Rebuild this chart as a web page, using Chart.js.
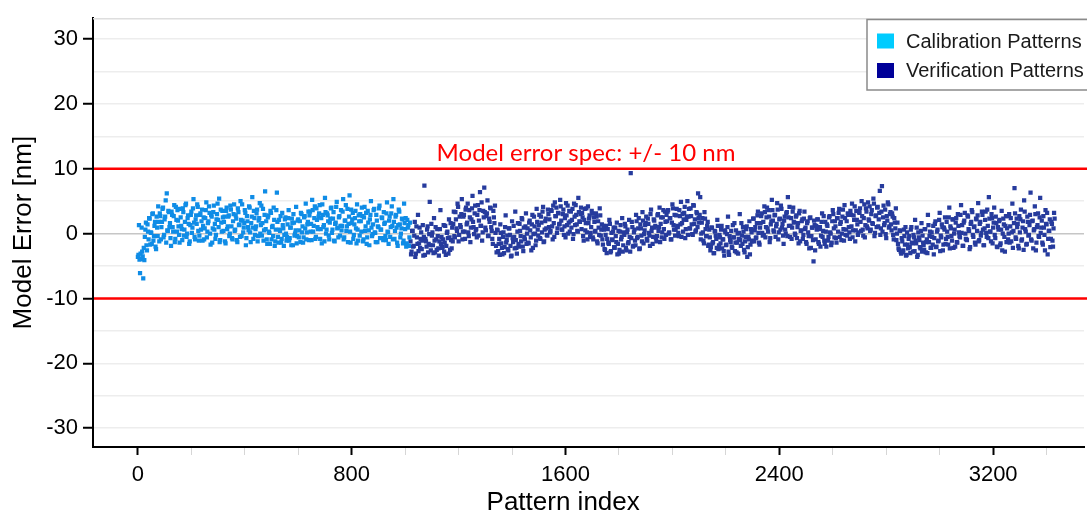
<!DOCTYPE html>
<html><head><meta charset="utf-8">
<script src="https://cdn.jsdelivr.net/npm/chart.js@4.4.1/dist/chart.umd.min.js"></script>
<style>html,body{margin:0;padding:0;background:#fff;overflow:hidden}canvas{display:block}</style>
</head><body>
<canvas id="c" width="1087" height="515"></canvas>
<script>
const seriesLabels = ['Calibration Patterns', 'Verification Patterns'];
const patternStep = 4;
const calibrationStartIndex = 0;
const verificationStartIndex = 1020;
const interleaveOffset = 2;
// samples at index start + 4i
const calibrationErrors = [
-3.6,1.3,-6.1,-3.9,-2.8,-6.9,-4.1,0.6,-1.8,1.4,
-0.9,2.3,0.2,-1.6,3.1,-0.4,1.8,-2.4,0.9,4.2,
-1.2,2.7,1.0,3.8,-0.6,2.2,5.1,6.2,0.4,3.3,
1.6,-1.9,2.9,0.3,4.4,-0.8,2.1,3.6,1.1,-1.4,
2.5,0.7,3.9,-0.3,1.8,4.6,0.0,2.8,-1.6,1.3,
3.4,0.9,5.3,-0.5,2.2,1.5,4.1,-1.1,2.9,0.6,
3.7,1.2,-0.9,2.4,4.8,0.3,1.9,3.2,-1.7,2.6,
0.8,4.3,1.5,-0.2,3.0,2.1,5.4,-1.0,1.7,3.5,
0.4,2.6,-1.5,4.0,1.1,2.8,0.0,3.7,-0.7,1.9,
4.5,0.6,2.3,-1.3,3.3,1.4,5.0,-0.4,2.0,0.9,
3.6,-1.8,2.7,1.0,4.2,0.2,1.6,5.6,-0.8,2.4,
0.7,3.1,-1.2,2.0,4.7,1.3,-0.3,3.8,0.5,6.5,
1.9,-1.6,2.8,0.1,3.5,-0.9,1.2,4.0,-1.9,0.6,
6.3,-0.5,2.1,0.4,-1.4,3.2,0.8,-0.2,2.5,-1.1,
1.4,3.6,-0.7,0.9,2.3,-1.8,1.7,0.0,4.1,-0.4,
2.2,0.5,-1.3,3.0,1.1,-0.6,2.7,4.6,0.2,1.8,
-1.0,3.4,1.5,5.2,0.3,2.4,-0.8,3.9,1.0,2.6,
4.4,0.7,-1.5,2.9,1.3,5.5,0.0,3.1,1.9,-0.9,
2.3,4.0,0.6,3.3,-1.2,1.7,4.9,0.9,2.5,-0.3,
3.6,1.2,5.3,-0.6,2.0,0.4,3.8,1.5,5.9,-1.4,
1.6,3.2,-0.2,2.4,0.8,4.5,-1.1,1.9,3.0,0.3,
2.7,-0.9,4.1,1.1,-1.6,3.5,0.5,2.2,5.0,-0.4,
1.4,3.8,0.1,2.9,-1.3,1.0,4.3,0.6,2.5,-0.7,
3.3,1.7,-1.0,4.8,0.2,2.0,-0.5,3.1,1.2,5.3,
-0.8,2.6,0.9,-1.9,3.7,1.4,0.0,2.3,-1.5,4.6,
0.7,-2.0,2.1,1.3,-0.6
];
// samples at index start + 2 + 4i
const calibrationErrorsB = [
-3.3,-4.0,-3.1,0.9,-3.5,-2.2,-0.5,1.7,-2.6,0.3,
2.4,-1.7,0.1,3.0,-1.1,1.2,-2.0,2.6,-0.4,1.8,
3.1,-0.9,1.8,4.0,-0.2,2.6,-1.4,0.5,3.5,1.0,
-0.7,3.4,1.0,2.7,-1.3,4.1,0.3,2.0,-0.2,3.8,
1.2,-1.0,3.3,0.6,4.4,-0.5,2.4,1.5,-1.2,2.9,
0.1,3.9,1.7,-0.9,2.8,4.5,0.4,-0.3,3.1,1.9,
-1.1,2.5,0.8,3.6,-0.6,1.6,4.2,0.0,2.9,-1.4,
3.3,0.6,-0.8,2.2,4.6,1.0,-1.3,3.7,0.3,2.5,
1.8,-1.2,3.5,0.7,2.6,-0.4,4.3,1.1,-0.9,3.0,
0.4,2.8,-1.0,3.9,1.3,-0.5,2.1,4.5,0.2,1.6,
3.2,-0.7,1.9,0.5,4.0,-1.3,2.6,0.9,3.5,-0.2,
1.1,3.7,-0.4,2.4,0.0,4.3,1.6,-1.1,2.9,0.7,
-0.9,2.5,0.3,-1.6,3.2,1.0,-0.4,2.1,-1.2,3.6,
1.8,-1.4,0.6,2.7,-0.8,1.3,-1.9,2.2,0.0,-0.5,
2.4,-1.1,0.9,-1.8,1.6,3.0,-0.3,0.5,-1.5,2.0,
-0.6,1.9,3.2,0.2,-1.4,2.5,0.8,-0.9,1.4,3.4,
2.8,0.3,-1.0,3.6,1.2,4.2,-0.5,2.1,0.7,3.1,
-0.8,2.4,4.5,1.0,-1.2,3.3,0.6,2.8,-0.3,1.7,
3.9,0.1,2.3,-1.1,1.5,4.1,0.8,-0.6,2.7,1.2,
0.5,3.4,-0.9,2.0,4.4,1.1,-1.3,2.6,0.3,3.7,
2.2,-0.8,1.4,3.5,-1.5,0.6,2.8,-0.3,1.9,4.0,
-1.2,2.5,0.4,3.2,-0.6,1.7,-1.8,2.9,0.9,-0.1,
3.6,0.2,-1.3,2.0,1.1,3.9,-0.7,0.6,2.4,-1.0,
1.5,-0.4,3.1,0.3,-1.6,2.6,1.0,4.2,-0.9,1.8,
0.4,2.9,-1.4,1.3,3.4,-0.6,0.8,2.2,-1.1,1.6,
2.4,-1.5,0.9,-1.9,1.7
];
const verificationErrors = [
-1.2,-2.8,0.4,-1.9,1.8,-3.1,-0.6,2.9,-1.5,-2.2,
0.2,-1.1,-3.4,7.4,-0.8,-2.0,1.1,-1.6,4.9,-2.6,
-0.3,-1.8,2.4,-2.9,-0.9,0.7,-2.3,-1.2,3.6,-0.5,
-2.1,1.3,-1.4,-3.3,0.1,-0.7,2.2,-2.5,-1.0,0.9,
1.5,-0.4,3.3,0.8,4.6,-1.2,2.6,1.0,5.3,0.3,
2.9,-0.8,4.0,1.7,0.2,3.6,-1.3,2.2,5.8,1.0,
3.1,0.5,-0.6,4.4,2.0,6.4,1.2,-1.1,3.5,7.1,
0.9,2.7,5.1,-0.3,1.8,3.9,0.4,-1.6,2.5,4.3,
-1.9,0.6,-2.7,-0.8,1.4,-1.5,-3.2,0.2,-2.1,2.8,
-1.0,-2.4,0.8,-0.2,-3.5,1.9,-1.3,-0.5,3.4,-2.2,
0.3,-1.6,1.5,-0.4,2.4,-2.0,0.9,-0.9,3.1,0.0,
-1.4,1.7,0.5,-2.6,2.9,-0.1,1.1,-1.8,3.8,0.6,
1.3,-0.7,2.6,0.2,4.1,-1.2,1.9,0.8,-0.3,3.0,
2.2,0.4,3.5,-0.9,1.6,4.8,2.7,0.1,3.2,1.4,
5.2,2.0,0.6,3.7,1.1,-0.6,2.8,4.3,1.7,0.3,
3.4,2.1,-0.8,4.6,1.3,2.9,0.4,5.5,1.9,3.0,
0.7,2.5,-1.1,3.8,1.6,0.2,4.2,2.3,-0.5,1.0,
3.1,-0.9,1.8,0.4,2.6,-1.5,0.9,3.9,-0.3,1.4,
-1.7,0.6,-2.5,1.2,-0.8,-1.4,2.1,-2.9,0.1,-1.0,
0.9,-2.2,-0.4,1.7,-1.6,-3.1,0.3,-0.9,2.4,-1.8,
-0.2,1.1,-2.6,0.6,-1.3,-0.5,9.3,1.8,-2.0,0.2,
-1.1,2.9,-0.7,0.8,-2.4,1.4,-0.3,3.3,-1.5,0.5,
1.6,-0.8,2.3,0.1,-1.9,3.7,0.9,-0.5,2.0,1.2,
-1.2,2.8,0.4,4.0,1.5,-0.6,2.5,0.7,3.4,-0.2,
1.9,3.6,0.2,2.4,-0.9,4.5,1.3,2.9,0.6,3.8,
1.0,-0.4,2.7,4.9,1.6,0.3,3.2,-0.7,2.1,5.0,
2.6,0.8,3.9,1.4,-0.2,4.3,2.2,0.5,3.1,6.2,
1.7,5.6,0.0,2.4,-1.1,3.3,0.7,-0.4,1.8,-1.7,
-0.6,-2.1,0.9,-1.3,-3.0,0.3,-0.8,2.1,-2.4,-0.2,
-1.5,1.2,-0.9,-2.7,0.5,-1.8,-0.1,2.6,-3.3,-1.0,
0.4,-2.2,-0.6,1.6,-1.4,-2.9,0.0,-0.8,3.0,-1.9,
-0.3,1.0,-2.5,-1.2,0.7,-3.6,-0.5,1.9,-1.7,0.2,
-1.1,2.3,0.5,-0.7,1.6,3.4,-1.4,0.9,2.7,0.1,
1.8,4.2,-0.6,2.5,0.8,3.6,-1.3,1.4,5.2,2.0,
0.3,2.9,1.1,4.7,-0.9,2.2,0.6,3.8,1.5,-1.6,
2.6,0.0,3.3,5.6,1.2,-0.5,2.4,0.9,4.0,1.7,
-0.2,2.8,1.0,-1.5,3.5,0.4,1.9,-0.8,2.3,0.7,
-1.3,1.6,0.2,-2.3,2.5,-0.4,0.9,-4.3,1.3,-0.9,
0.6,2.2,-1.6,1.0,-0.3,3.1,0.4,-1.1,1.8,-2.0,
1.2,-0.5,2.7,0.0,-1.4,3.6,0.8,1.9,-0.7,2.4,
0.3,3.8,1.5,-1.0,2.6,0.7,4.4,-0.2,1.9,3.1,
1.0,-0.8,2.9,4.6,0.5,2.1,-1.2,3.5,1.4,0.2,
3.2,1.8,5.0,0.6,2.4,-0.6,3.9,1.1,4.8,2.0,
0.4,3.0,1.6,5.4,-0.4,2.7,1.0,4.1,2.2,6.6,
0.8,7.3,2.5,1.3,3.7,-0.7,2.0,4.5,1.1,3.3,
0.5,2.6,-0.9,1.7,3.9,0.0,-1.6,-2.5,0.4,-3.1,
-1.2,-2.6,-0.4,1.0,-3.3,-1.7,-0.8,-2.1,0.6,-1.4,
-2.8,-0.6,2.1,-1.5,-3.6,0.2,-1.0,-2.3,1.6,-0.3,
-1.8,0.7,-2.9,-0.9,2.9,-1.3,0.3,-2.2,-0.5,1.2,
-0.7,1.9,-2.0,0.6,-1.1,3.2,-0.3,1.4,-2.6,0.9,
2.5,-0.8,0.3,-1.7,4.0,1.1,-0.4,2.2,-2.2,0.6,
1.7,-1.3,3.0,0.2,-0.6,4.4,1.3,-1.9,2.0,0.0,
-0.9,2.8,0.7,-2.4,1.5,3.6,-0.2,1.0,-1.4,2.3,
0.4,4.7,-1.0,1.8,0.1,2.9,-1.8,0.8,3.4,-0.5,
1.2,5.6,0.3,-1.2,2.4,0.9,4.0,-0.7,1.6,-2.1,
0.6,2.1,-1.5,3.5,0.0,1.4,-2.8,2.7,0.8,-0.9,
3.0,1.1,-1.2,4.6,0.4,7.0,-0.6,2.3,1.5,-2.3,
0.2,3.7,-0.9,1.9,5.1,0.7,-1.7,2.6,-0.3,1.3,
6.3,-1.1,2.0,0.5,4.2,-2.6,1.0,3.1,-0.5,5.5,
0.9,-1.4,2.7,-0.2,3.6,1.4,-3.2,0.4,2.2,-0.8,
1.5,-2.0,3.2
];
const verificationErrorsB = [
-3.2,0.4,-2.0,-0.3,-3.6,1.1,-1.6,-2.7,0.9,-0.8,
-2.4,1.3,-0.5,-3.3,-1.2,0.6,-2.9,-0.1,-1.8,1.5,
0.2,-3.0,-1.1,1.0,-2.5,-0.4,-3.4,0.7,-1.6,-2.2,
-0.9,-2.8,1.2,-1.9,0.3,-3.1,-0.6,1.6,-2.3,-1.2,
3.4,-0.6,2.2,0.4,4.1,-0.2,1.3,3.0,-0.9,2.6,
0.3,3.7,1.4,4.6,-0.4,2.5,0.9,3.9,1.8,-0.1,
4.3,0.7,2.9,-0.3,3.6,1.2,4.8,0.2,2.5,3.3,
0.5,3.1,-0.4,2.3,4.0,1.0,-0.8,3.5,1.6,0.1,
-2.9,0.5,-1.6,-3.3,0.1,-2.2,-0.5,-3.0,1.0,-1.4,
-0.3,-2.6,0.8,-1.9,-3.4,-0.7,1.2,-2.3,-1.0,-3.1,
1.6,-2.0,0.4,-1.2,2.2,-2.7,-0.5,1.1,-1.6,0.8,
-1.5,2.0,-0.6,1.4,-2.2,2.6,0.0,-1.1,1.8,-0.3,
2.9,-0.8,1.7,3.4,-1.3,0.6,2.3,-0.2,3.7,1.0,
0.2,3.6,1.1,4.3,-0.5,2.7,4.0,0.8,3.1,1.5,
4.2,0.6,3.0,-0.2,2.4,4.7,1.3,0.0,3.5,1.9,
0.9,3.8,-0.1,2.6,4.4,1.4,0.3,3.3,1.8,4.0,
3.2,-0.4,2.1,0.5,3.9,-0.9,1.6,2.8,0.1,3.5,
-0.6,2.5,0.3,3.1,-1.2,1.9,-0.2,2.8,0.6,-0.9,
1.2,-2.4,-0.2,-3.0,0.7,-1.6,1.5,-2.7,-0.9,0.3,
-2.1,0.9,-1.3,-3.2,0.4,-2.5,1.3,-0.5,-2.8,0.2,
1.5,-2.2,0.2,-1.5,2.1,-2.8,-0.7,1.0,-1.9,0.6,
-1.8,1.9,-0.5,2.4,-2.3,0.8,-1.2,2.0,-0.1,1.3,
2.6,-1.1,1.5,-0.3,3.0,0.4,-1.6,2.2,0.9,-0.7,
-0.4,3.0,1.0,-1.3,2.5,0.2,3.6,-0.8,1.8,2.9,
3.4,0.0,2.4,-0.9,1.7,3.9,0.6,-0.3,2.8,1.2,
0.1,3.6,1.4,-0.5,3.0,2.2,4.1,0.7,2.6,-0.2,
3.8,0.8,2.7,-0.1,4.4,1.5,0.3,3.3,1.0,2.4,
2.9,-0.9,1.7,0.2,-1.5,2.3,-0.4,1.2,-1.9,0.6,
-2.6,0.9,-1.5,-3.0,0.4,-0.3,-2.2,1.2,-1.8,-0.6,
0.6,-2.3,-0.9,-3.4,0.2,-1.7,1.0,-2.8,-0.4,-1.3,
-2.0,1.3,-0.6,-2.7,0.5,-1.4,-3.1,0.1,-1.0,1.6,
-1.6,0.3,-2.9,-0.5,1.1,-2.1,-0.9,-3.2,0.7,-1.2,
2.3,-1.2,1.0,-0.6,2.8,0.1,-1.7,1.6,3.1,-0.3,
-0.2,3.3,1.0,4.0,0.3,2.6,-0.7,1.9,3.6,0.5,
2.8,-0.5,1.5,3.7,0.2,2.3,4.3,0.9,-0.3,2.0,
0.6,3.1,-0.4,2.5,4.1,1.2,-0.8,3.4,1.8,0.0,
2.6,-0.7,1.6,3.1,-1.2,0.5,2.2,-0.2,3.4,0.9,
-1.6,1.9,-0.4,2.4,-2.2,0.9,-1.0,2.0,-2.6,1.2,
2.2,-1.3,0.7,-2.0,1.8,-0.5,2.7,-1.6,0.3,1.4,
-1.1,2.5,0.2,-1.8,1.9,3.0,-0.6,1.1,-1.4,2.4,
3.2,-0.5,1.8,0.0,3.7,-1.1,2.4,0.6,-0.3,2.9,
0.2,3.5,1.1,-0.6,2.8,4.2,0.5,2.1,-0.2,3.3,
3.9,0.4,2.7,-0.3,4.5,1.3,3.4,0.8,2.2,4.2,
0.6,3.6,1.5,4.6,0.1,2.8,4.0,1.1,3.2,-0.2,
3.4,0.3,4.3,1.6,-0.1,2.7,4.8,0.9,3.0,1.4,
3.1,-0.2,2.4,0.8,-1.0,1.7,-2.3,0.5,-2.8,-0.7,
-2.9,0.6,-1.7,-3.4,0.2,-2.3,-0.4,-3.0,1.0,-1.5,
-0.2,-2.7,-1.1,0.9,-3.3,-0.6,-2.1,0.4,-2.8,-1.4,
-2.5,0.7,-1.3,-3.0,1.3,-0.4,-2.2,0.2,-1.7,-3.2,
1.5,-2.1,0.3,-1.2,2.1,-2.7,-0.6,1.0,-1.7,0.6,
-1.6,1.8,-0.5,2.5,-2.3,0.8,-1.1,2.2,0.0,-2.0,
2.4,-1.4,1.2,-0.4,2.9,0.1,-1.9,1.7,3.2,-0.8,
-1.0,2.6,0.4,-2.1,1.8,3.3,-0.5,1.1,-1.7,2.2,
2.8,-1.2,1.5,-0.3,3.4,0.6,-1.8,2.1,0.1,3.7,
-0.7,2.3,0.3,3.0,-1.5,1.7,-0.2,2.6,-2.0,1.0,
1.9,-1.8,0.6,-2.6,2.3,-0.5,1.2,-1.3,2.7,0.0,
-1.4,2.4,0.2,-2.2,1.6,3.1,-0.8,1.0,-1.9,2.7,
2.2,-1.1,0.9,-2.5,3.4,0.3,-1.6,1.8,-0.2,2.9,
-0.9,1.9,-2.3,0.7,3.0,-1.4,1.3,-0.4,2.5,0.1,
2.0,-1.7,0.9,-2.6,1.5,3.2,-0.8,0.4,-2.1,1.8,
-1.1,0.8,2.3
];
const xTickLabels = [0, 800, 1600, 2400, 3200];
const yTickLabels = [-30, -20, -10, 0, 10, 20, 30];
const xAxisTitle = 'Pattern index';
const yAxisTitle = 'Model Error [nm]';
const specLimits = [10, -10];
const specLabel = 'Model error spec: +/- 10 nm';
const pointColors = ['#0f8ce6', '#263b9d'];
const legendColors = ['#00ccff', '#000099'];

const FONT = '"Liberation Sans", Arial, Helvetica, sans-serif';

function toPoints(start, values) {
  return values.map((v, i) => ({ x: start + i * patternStep, y: v }));
}

const overlay = {
  id: 'overlay',
  beforeDatasetsDraw(chart) {
    const { ctx, chartArea: a, scales: { y } } = chart;
    ctx.save();
    ctx.strokeStyle = '#dedede';
    ctx.lineWidth = 1.5;
    ctx.beginPath(); ctx.moveTo(a.left, a.top + 0.5); ctx.lineTo(chart.width, a.top + 0.5); ctx.stroke();
    ctx.strokeStyle = '#ff0000';
    ctx.lineWidth = 2.5;
    specLimits.forEach(v => {
      const py = y.getPixelForValue(v);
      ctx.beginPath(); ctx.moveTo(a.left + 1, py); ctx.lineTo(chart.width, py); ctx.stroke();
    });
    let size = 24;
    ctx.font = size + 'px Lato, "Open Sans", sans-serif';
    const w = ctx.measureText(specLabel).width;
    size = size * 299 / w;
    ctx.font = size.toFixed(2) + 'px Lato, "Open Sans", sans-serif';
    ctx.fillStyle = '#ff0000';
    ctx.textAlign = 'center';
    ctx.textBaseline = 'alphabetic';
    ctx.fillText(specLabel, a.left + 0.496 * (chart.width - a.left), y.getPixelForValue(specLimits[0]) - 8);
    ctx.restore();
  },
  afterDraw(chart) {
    const { ctx, chartArea: a } = chart;
    ctx.save();
    ctx.font = '26px ' + FONT;
    ctx.fillStyle = '#000';
    ctx.textAlign = 'center';
    ctx.textBaseline = 'alphabetic';
    ctx.fillText(xAxisTitle, a.left + 0.473 * (chart.width - a.left), 510);
    const bx = chart.width - 220, by = 19.5, bh = 70.5;
    ctx.fillStyle = '#fff';
    ctx.fillRect(bx, by, 260, bh);
    ctx.strokeStyle = '#8a8a8a';
    ctx.lineWidth = 1.5;
    ctx.strokeRect(bx, by, 260, bh);
    ctx.font = '20px ' + FONT;
    ctx.textAlign = 'left';
    ctx.textBaseline = 'middle';
    seriesLabels.forEach((lab, i) => {
      const cy = by + 21.5 + i * 29.5;
      ctx.fillStyle = legendColors[i];
      ctx.fillRect(bx + 10, cy - 7.5, 17, 15);
      ctx.fillStyle = '#1a1a1a';
      ctx.fillText(lab, bx + 39, cy + 1);
    });
    ctx.restore();
  }
};

const ptOpts = { pointStyle: 'rect', pointRadius: 3.0, pointBorderWidth: 0, pointHoverRadius: 3.0 };

new Chart(document.getElementById('c'), {
  type: 'scatter',
  data: {
    datasets: [
      Object.assign({ label: seriesLabels[0], backgroundColor: pointColors[0],
        data: toPoints(calibrationStartIndex, calibrationErrors).concat(
              toPoints(calibrationStartIndex + interleaveOffset, calibrationErrorsB)) }, ptOpts),
      Object.assign({ label: seriesLabels[1], backgroundColor: pointColors[1],
        data: toPoints(verificationStartIndex, verificationErrors).concat(
              toPoints(verificationStartIndex + interleaveOffset, verificationErrorsB)) }, ptOpts)
    ]
  },
  options: {
    responsive: false,
    animation: false,
    events: [],
    layout: { padding: { top: 13, left: 0, right: 0, bottom: 0 } },
    plugins: { legend: { display: false }, tooltip: { enabled: false } },
    scales: {
      x: {
        type: 'linear', min: -168, max: 3540,
        afterFit(s) { s.height = 68; },
        border: { color: '#000', width: 2 },
        grid: {
          drawOnChartArea: false, drawTicks: true, tickLength: 8,
          tickColor: c => xTickLabels.includes(c.tick.value) ? '#000' : '#d6d6d6',
          tickWidth: c => xTickLabels.includes(c.tick.value) ? 2 : 1
        },
        ticks: {
          stepSize: 200, includeBounds: false, autoSkip: false, maxRotation: 0, padding: 7,
          color: '#000', font: { family: FONT, size: 22 },
          callback: v => xTickLabels.includes(v) ? String(v) : ''
        },
        title: { display: false, text: xAxisTitle }
      },
      y: {
        type: 'linear', min: -32.9, max: 33.2,
        afterFit(s) { s.width = 93; },
        border: { color: '#000', width: 2 },
        grid: {
          drawTicks: true, tickLength: 10,
          color: c => c.tick.value === 0 ? '#c6c6c6' : '#ededed',
          lineWidth: 1.5,
          tickColor: c => yTickLabels.includes(c.tick.value) ? '#000' : 'rgba(0,0,0,0)',
          tickWidth: 2
        },
        ticks: {
          stepSize: 5, includeBounds: false, autoSkip: false, padding: 5,
          color: '#000', font: { family: FONT, size: 22 },
          callback: v => yTickLabels.includes(v) ? String(v) : ''
        },
        title: { display: true, text: yAxisTitle, color: '#000',
          font: { family: FONT, size: 26 }, padding: { top: 8, bottom: 0 } }
      }
    }
  },
  plugins: [overlay]
});
</script>
</body></html>
